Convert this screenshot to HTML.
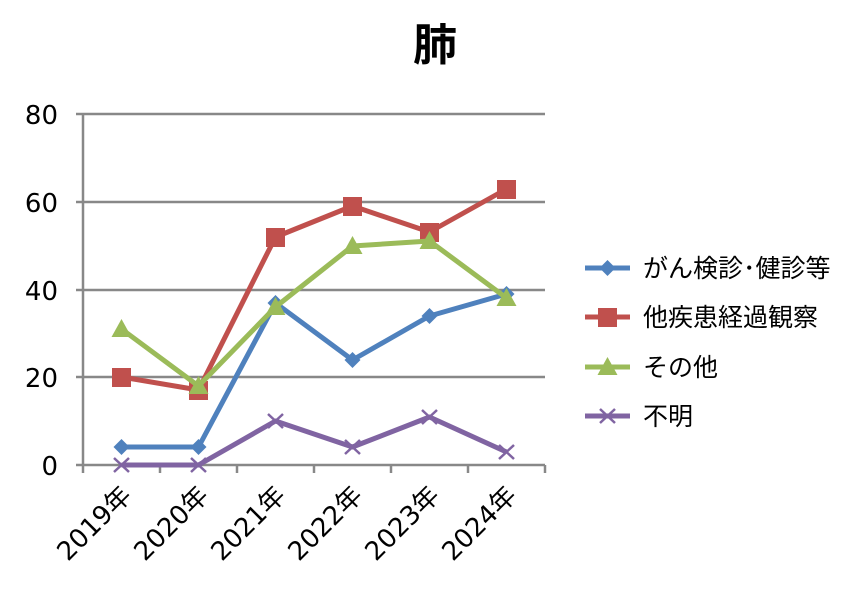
<!DOCTYPE html>
<html><head><meta charset="utf-8"><style>body{margin:0;background:#fff}svg{display:block}</style></head>
<body>
<svg width="854" height="606" viewBox="0 0 854 606" xmlns="http://www.w3.org/2000/svg" font-family="'DejaVu Sans','Noto Sans CJK JP',sans-serif">
<rect width="854" height="606" fill="#fff"/>
<text x="435" y="60" font-size="44" font-weight="bold" text-anchor="middle" font-family="'Noto Sans CJK JP',sans-serif">肺</text>
<g stroke="#888" stroke-width="2.5">
<line x1="83" y1="114" x2="545" y2="114"/>
<line x1="83" y1="202" x2="545" y2="202"/>
<line x1="83" y1="290" x2="545" y2="290"/>
<line x1="83" y1="377" x2="545" y2="377"/>
<line x1="83" y1="114" x2="83" y2="465"/>
<line x1="76" y1="465" x2="545" y2="465"/>
<line x1="76" y1="114" x2="83" y2="114"/><line x1="76" y1="202" x2="83" y2="202"/><line x1="76" y1="290" x2="83" y2="290"/><line x1="76" y1="377" x2="83" y2="377"/>
<line x1="160" y1="465" x2="160" y2="473"/><line x1="237" y1="465" x2="237" y2="473"/><line x1="314" y1="465" x2="314" y2="473"/><line x1="391" y1="465" x2="391" y2="473"/><line x1="468" y1="465" x2="468" y2="473"/><line x1="545" y1="465" x2="545" y2="473"/><line x1="83" y1="465" x2="83" y2="473"/>
</g>
<g font-size="26" text-anchor="end" fill="#000">
<text x="58" y="124">80</text><text x="58" y="212">60</text><text x="58" y="300">40</text><text x="58" y="387">20</text><text x="58" y="475">0</text>
</g>
<g font-size="26" text-anchor="end" fill="#000">
<text transform="translate(133,497) rotate(-45)">2019年</text>
<text transform="translate(210,497) rotate(-45)">2020年</text>
<text transform="translate(287,497) rotate(-45)">2021年</text>
<text transform="translate(364,497) rotate(-45)">2022年</text>
<text transform="translate(441,497) rotate(-45)">2023年</text>
<text transform="translate(518,497) rotate(-45)">2024年</text>
</g>
<polyline fill="none" stroke="#8064A2" stroke-width="5" stroke-linejoin="round" points="121.5,465 198.5,465 275.5,421 352.5,447 429.5,417 506.5,452"/>
<g stroke="#8064A2" stroke-width="2.5">
<path d="M114,458l15,14M114,472l15,-14"/><path d="M191,458l15,14M191,472l15,-14"/><path d="M268,414l15,14M268,428l15,-14"/><path d="M345,440l15,14M345,454l15,-14"/><path d="M422,410l15,14M422,424l15,-14"/><path d="M499,445l15,14M499,459l15,-14"/>
</g>
<polyline fill="none" stroke="#4F81BD" stroke-width="5" stroke-linejoin="round" points="121.5,447 198.5,447 275.5,303 352.5,360 429.5,316 506.5,294"/>
<g fill="#4F81BD">
<path d="M121.5,439l8,8-8,8-8-8z"/><path d="M198.5,439l8,8-8,8-8-8z"/><path d="M275.5,295l8,8-8,8-8-8z"/><path d="M352.5,352l8,8-8,8-8-8z"/><path d="M429.5,308l8,8-8,8-8-8z"/><path d="M506.5,286l8,8-8,8-8-8z"/>
</g>
<polyline fill="none" stroke="#C0504D" stroke-width="5" stroke-linejoin="round" points="121.5,377 198.5,390 275.5,237 352.5,206 429.5,232 506.5,189"/>
<g fill="#C0504D">
<rect x="112" y="368" width="19" height="19"/><rect x="189" y="381" width="19" height="19"/><rect x="266" y="228" width="19" height="19"/><rect x="343" y="197" width="19" height="19"/><rect x="420" y="223" width="19" height="19"/><rect x="497" y="180" width="19" height="19"/>
</g>
<polyline fill="none" stroke="#9BBB59" stroke-width="5" stroke-linejoin="round" points="121.5,329 198.5,386 275.5,307 352.5,246 429.5,241 506.5,298"/>
<g fill="#9BBB59">
<path d="M121.5,319l10,18h-20z"/><path d="M198.5,376l10,18h-20z"/><path d="M275.5,297l10,18h-20z"/><path d="M352.5,236l10,18h-20z"/><path d="M429.5,231l10,18h-20z"/><path d="M506.5,288l10,18h-20z"/>
</g>
<g font-size="25" fill="#000">
<line x1="585" y1="268" x2="630" y2="268" stroke="#4F81BD" stroke-width="5"/><path d="M607.5,260l8,8-8,8-8-8z" fill="#4F81BD"/>
<text x="643" y="277">がん検診･健診等</text>
<line x1="585" y1="317" x2="630" y2="317" stroke="#C0504D" stroke-width="5"/><rect x="598" y="308" width="19" height="19" fill="#C0504D"/>
<text x="643" y="326">他疾患経過観察</text>
<line x1="585" y1="367" x2="630" y2="367" stroke="#9BBB59" stroke-width="5"/><path d="M607.5,357l10,18h-20z" fill="#9BBB59"/>
<text x="643" y="376">その他</text>
<line x1="585" y1="416" x2="630" y2="416" stroke="#8064A2" stroke-width="5"/><path d="M600,409l15,14M600,423l15,-14" stroke="#8064A2" stroke-width="2.5"/>
<text x="643" y="425">不明</text>
</g>
</svg>
</body></html>
